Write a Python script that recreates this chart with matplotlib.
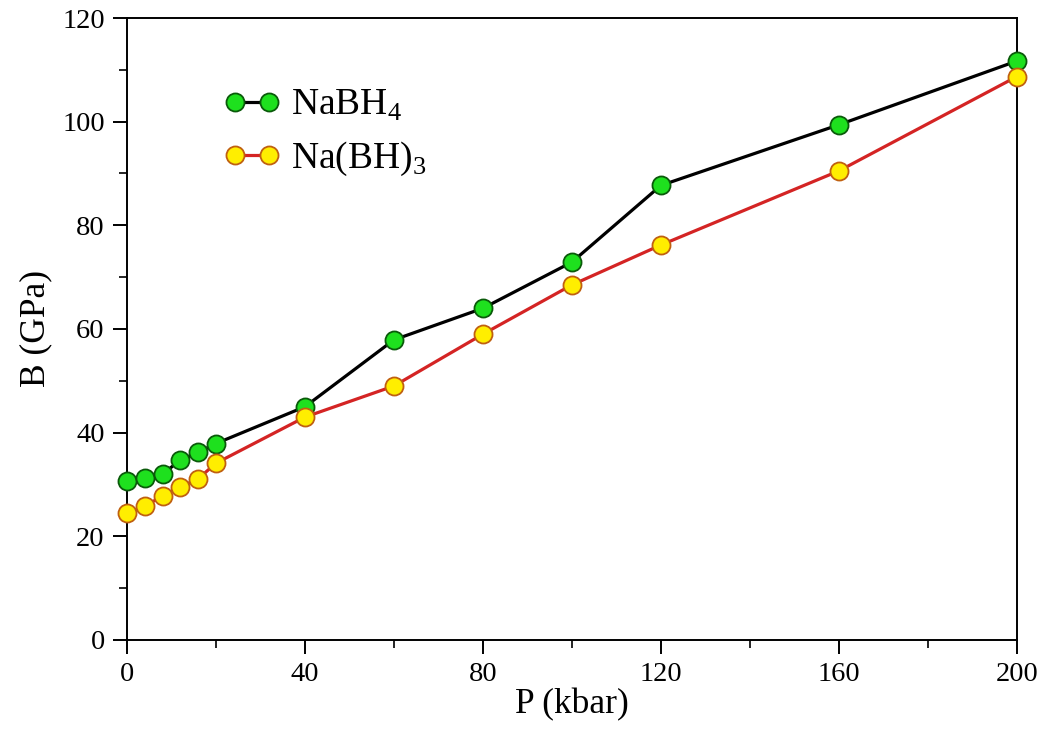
import matplotlib
matplotlib.use("Agg")
import matplotlib.pyplot as plt
from matplotlib.ticker import MultipleLocator

pressure = [0, 4, 8, 12, 16, 20, 40, 60, 80, 100, 120, 160, 200]
b_nabh4 = [30.7, 31.2, 32.0, 34.7, 36.2, 37.9, 45.0, 57.9, 64.0, 72.9, 87.7, 99.4, 111.7]
b_nabh3 = [24.4, 25.9, 27.7, 29.5, 31.1, 34.1, 43.0, 49.0, 59.0, 68.5, 76.2, 90.5, 108.7]

plt.rcParams['font.family'] = ['Liberation Serif', 'DejaVu Serif']
plt.rcParams['mathtext.fontset'] = 'custom'
plt.rcParams['mathtext.rm'] = 'Liberation Serif'

fig = plt.figure(figsize=(10.44, 7.35), dpi=100)
ax = fig.add_axes([0.1216, 0.1293, 0.8524, 0.8462])

ax.plot(pressure, b_nabh4, '-o', color='black', lw=2.3, ms=13,
        mfc='#1ee01e', mec='#0a5a0a', mew=1.3, clip_on=False, zorder=3,
        label=r'NaBH$_4$')
ax.plot(pressure, b_nabh3, '-o', color='#d42424', lw=2.3, ms=13,
        mfc='#ffee00', mec='#c06010', mew=1.3, clip_on=False, zorder=3,
        label=r'Na(BH)$_3$')

ax.set_xlim(0, 200)
ax.set_ylim(0, 120)
ax.xaxis.set_major_locator(MultipleLocator(40))
ax.xaxis.set_minor_locator(MultipleLocator(20))
ax.yaxis.set_major_locator(MultipleLocator(20))
ax.yaxis.set_minor_locator(MultipleLocator(10))
ax.tick_params(which='major', direction='out', length=10, width=1.4, labelsize=20.5, pad=6)
ax.tick_params(which='minor', direction='out', length=6, width=1.2)
for s in ax.spines.values():
    s.set_linewidth(1.4)

ax.set_xlabel('P (kbar)', fontsize=25.5, labelpad=1)
ax.set_ylabel('B (GPa)', fontsize=25.5, labelpad=7)

leg = ax.legend(loc='upper left', bbox_to_anchor=(0.092, 0.912), frameon=False,
                fontsize=27, numpoints=2, handlelength=1.5, handletextpad=0.3,
                labelspacing=0.45, borderaxespad=0)

fig.savefig('out.png', dpi=100)
